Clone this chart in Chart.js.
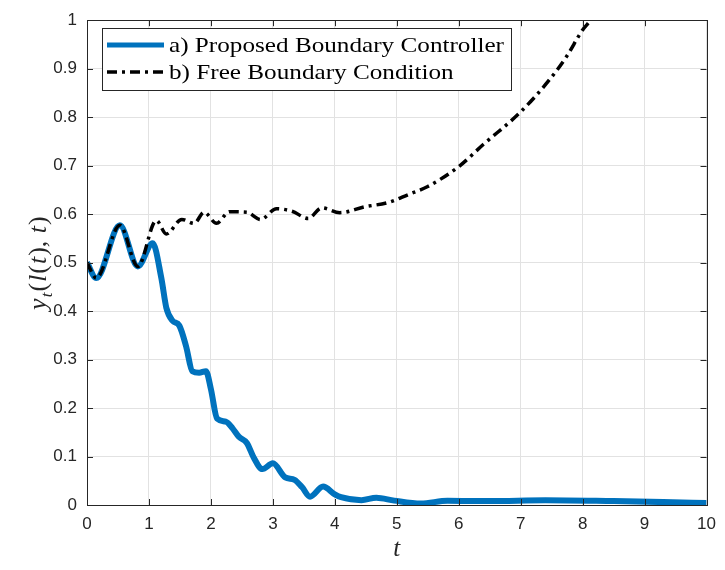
<!DOCTYPE html>
<html>
<head>
<meta charset="utf-8">
<script src="https://cdn.jsdelivr.net/npm/chart.js@4"></script>
<style>
  body { margin: 0; background: #fff; }
  #wrap { width: 725px; height: 570px; }
</style>
</head>
<body>
<div id="wrap"><canvas id="response-chart" width="725" height="570"></canvas></div>
<script>
// boundary response y_t(l(t), t) over time
const tControlled = [0, 0.15, 0.53, 0.82, 1.06, 1.2, 1.28, 1.38, 1.49, 1.6, 1.7, 1.81, 1.92, 2.0, 2.1, 2.24, 2.35, 2.45, 2.58, 2.69, 2.83, 3.0, 3.2, 3.35, 3.47, 3.6, 3.81, 4.0, 4.1, 4.43, 4.67, 4.96, 5.39, 5.82, 6.5, 7.4, 8.5, 9.3, 10];
const yControlled = [0.500, 0.468, 0.577, 0.492, 0.540, 0.468, 0.407, 0.380, 0.370, 0.327, 0.276, 0.273, 0.276, 0.239, 0.178, 0.172, 0.158, 0.141, 0.128, 0.098, 0.074, 0.086, 0.057, 0.052, 0.037, 0.017, 0.038, 0.022, 0.016, 0.010, 0.015, 0.009, 0.003, 0.009, 0.008, 0.010, 0.008, 0.006, 0.004];

const tFree = [0, 0.15, 0.53, 0.82, 1.12, 1.28, 1.53, 1.73, 1.89, 2.09, 2.3, 2.58, 2.8, 3.06, 3.31, 3.57, 3.79, 4.08, 4.48, 4.86, 5.18, 5.5, 6.0, 6.4, 7.0, 7.47, 7.74, 8.0, 8.11, 8.5, 9.0];
const yFree = [0.500, 0.468, 0.577, 0.492, 0.587, 0.559, 0.589, 0.581, 0.604, 0.581, 0.605, 0.604, 0.589, 0.611, 0.606, 0.591, 0.613, 0.603, 0.615, 0.624, 0.640, 0.657, 0.698, 0.744, 0.811, 0.878, 0.925, 0.980, 0.997, 1.07, 1.17];

const xTicks = [0, 1, 2, 3, 4, 5, 6, 7, 8, 9, 10];
const yTicks = [0, 0.1, 0.2, 0.3, 0.4, 0.5, 0.6, 0.7, 0.8, 0.9, 1];

const legendLabels = ['a) Proposed Boundary Controller', 'b) Free Boundary Condition'];

const BLUE = 'rgb(0,114,189)';
const AXIS = 'rgb(38,38,38)';
const FREE_DASH = [10, 5, 3, 5];

function toPoints(ts, ys) {
  return ts.map((t, i) => ({ x: t, y: ys[i] }));
}

// box, inward ticks, axis titles and legend
const framePlugin = {
  id: 'frame',
  afterDatasetsDraw(chart) {
    const { ctx, chartArea: a, scales } = chart;
    ctx.save();
    ctx.strokeStyle = AXIS;
    ctx.lineWidth = 1;
    ctx.beginPath();
    xTicks.forEach(v => {
      const px = Math.round(scales.x.getPixelForValue(v)) + 0.5;
      ctx.moveTo(px, a.bottom); ctx.lineTo(px, a.bottom - 6);
      ctx.moveTo(px, a.top); ctx.lineTo(px, a.top + 6);
    });
    yTicks.forEach(v => {
      const py = Math.round(scales.y.getPixelForValue(v)) + 0.5;
      ctx.moveTo(a.left, py); ctx.lineTo(a.left + 6, py);
      ctx.moveTo(a.right, py); ctx.lineTo(a.right - 6, py);
    });
    ctx.stroke();
    ctx.strokeRect(Math.round(a.left) + 0.5, Math.round(a.top) + 0.5,
      Math.round(a.right - a.left), Math.round(a.bottom - a.top));

    // x title
    ctx.fillStyle = AXIS;
    ctx.textAlign = 'center';
    ctx.textBaseline = 'middle';
    ctx.font = 'italic 25px "Liberation Serif"';
    ctx.fillText('t', (a.left + a.right) / 2, 549);

    // y title with subscript, rotated
    ctx.save();
    ctx.translate(38, (a.top + a.bottom) / 2);
    ctx.rotate(-Math.PI / 2);
    const parts = [
      ['italic 26px "Liberation Serif"', 'y', 0],
      ['italic 17px "Liberation Serif"', 't', 6],
      ['26px "Liberation Serif"', '(', 0],
      ['italic 26px "Liberation Serif"', 'l', 0],
      ['26px "Liberation Serif"', '(', 0],
      ['italic 26px "Liberation Serif"', 't', 0],
      ['26px "Liberation Serif"', '), ', 0],
      ['italic 26px "Liberation Serif"', 't', 0],
      ['26px "Liberation Serif"', ')', 0]
    ];
    let total = 0;
    parts.forEach(p => { ctx.font = p[0]; total += ctx.measureText(p[1]).width + 1; });
    let x = -total / 2;
    ctx.textAlign = 'left';
    ctx.textBaseline = 'alphabetic';
    parts.forEach(p => {
      ctx.font = p[0];
      ctx.fillText(p[1], x, 8 + p[2]);
      x += ctx.measureText(p[1]).width + 1;
    });
    ctx.restore();

    // legend
    const box = { x: 102, y: 28, w: 409, h: 62 };
    ctx.fillStyle = '#fff';
    ctx.fillRect(box.x, box.y, box.w, box.h);
    ctx.strokeStyle = AXIS;
    ctx.lineWidth = 1;
    ctx.strokeRect(box.x + 0.5, box.y + 0.5, box.w, box.h);
    const rows = [45, 72];
    ctx.lineWidth = 5;
    ctx.strokeStyle = BLUE;
    ctx.beginPath(); ctx.moveTo(107, rows[0]); ctx.lineTo(164, rows[0]); ctx.stroke();
    ctx.lineWidth = 3.5;
    ctx.strokeStyle = '#000';
    ctx.setLineDash(FREE_DASH);
    ctx.beginPath(); ctx.moveTo(107, rows[1]); ctx.lineTo(164, rows[1]); ctx.stroke();
    ctx.setLineDash([]);
    ctx.fillStyle = '#000';
    ctx.font = '22px "Liberation Serif"';
    ctx.textAlign = 'left';
    ctx.textBaseline = 'middle';
    // widen the serif text so the longest label spans the box
    const widest = Math.max(...legendLabels.map(s => ctx.measureText(s).width));
    const sx = 335 / widest;
    ctx.save();
    ctx.translate(169, 0);
    ctx.scale(sx, 1);
    legendLabels.forEach((s, i) => ctx.fillText(s, 0, rows[i] + 1));
    ctx.restore();
    ctx.restore();
  }
};

const ctx = document.getElementById('response-chart').getContext('2d');

new Chart(ctx, {
  type: 'line',
  data: {
    datasets: [{
      label: legendLabels[0],
      data: toPoints(tControlled, yControlled),
      borderColor: BLUE,
      borderWidth: 6,
      cubicInterpolationMode: 'monotone',
      pointRadius: 0,
      fill: false,
      order: 2
    }, {
      label: legendLabels[1],
      data: toPoints(tFree, yFree),
      borderColor: '#000',
      borderWidth: 3.5,
      borderDash: FREE_DASH,
      cubicInterpolationMode: 'monotone',
      pointRadius: 0,
      fill: false,
      order: 1
    }]
  },
  options: {
    responsive: false,
    animation: false,
    layout: { padding: { top: 11, right: 14, left: 0, bottom: 0 } },
    plugins: { legend: { display: false }, tooltip: { enabled: false } },
    scales: {
      x: {
        type: 'linear',
        min: 0, max: 10,
        afterFit: s => { s.height = 65; },
        afterBuildTicks: s => { s.ticks = xTicks.map(v => ({ value: v })); },
        grid: { color: 'rgb(226,226,226)', drawTicks: false },
        border: { display: false },
        ticks: { color: AXIS, padding: 9, font: { family: 'Liberation Sans', size: 17 }, maxRotation: 0 }
      },
      y: {
        type: 'linear',
        min: 0, max: 1,
        afterFit: s => { s.width = 87; },
        afterBuildTicks: s => { s.ticks = yTicks.map(v => ({ value: v })); },
        grid: { color: 'rgb(226,226,226)', drawTicks: false },
        border: { display: false },
        ticks: {
          color: AXIS, padding: 10, font: { family: 'Liberation Sans', size: 17 },
          callback: v => String(+v.toFixed(1))
        }
      }
    }
  },
  plugins: [framePlugin]
});
</script>
</body>
</html>
